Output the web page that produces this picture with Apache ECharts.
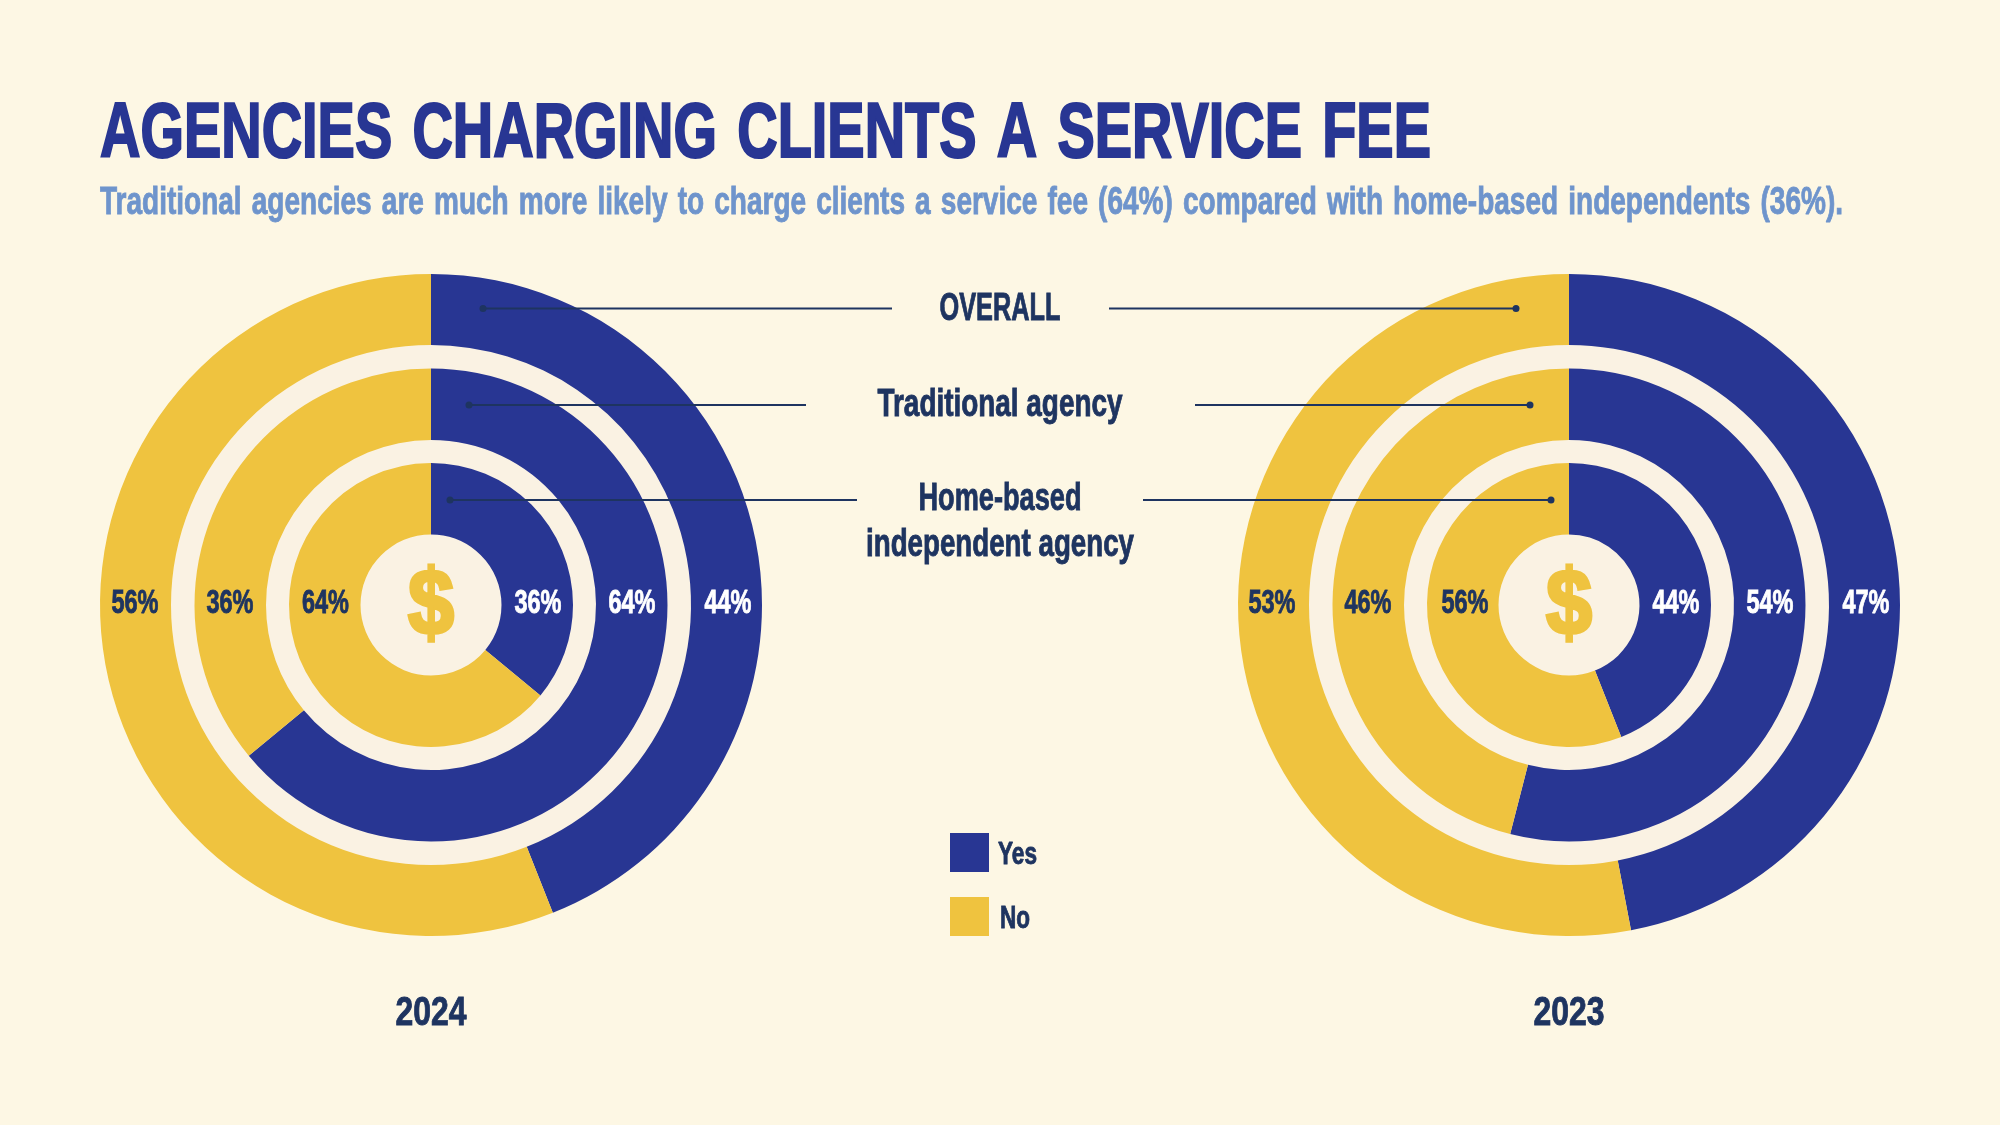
<!DOCTYPE html>
<html>
<head>
<meta charset="utf-8">
<style>html,body{margin:0;padding:0;background:#FDF7E4}#chart{width:2000px;height:1125px}</style>
<script src="https://cdn.jsdelivr.net/npm/echarts@6/dist/echarts.min.js"></script>
</head>
<body>
<div id="chart"></div>
<script>
// Share of agencies charging a service fee, by survey year and agency type
const years = ['2024', '2023'];
const answers = ['Yes', 'No'];
const ringNames = ['OVERALL', 'Traditional agency', 'Home-based independent agency'];
const yes2024 = [44, 64, 36];
const no2024 = [56, 36, 64];
const yes2023 = [47, 54, 44];
const no2023 = [53, 46, 56];
const titleText = 'AGENCIES CHARGING CLIENTS A SERVICE FEE';
const subtitleText = 'Traditional agencies are much more likely to charge clients a service fee (64%) compared with home-based independents (36%).';

const BLUE = '#283693', YELLOW = '#EFC33F', NAVY = '#1E3460', SKY = '#6E94CC';
const PAPER = '#FDF7E4', GAP = '#FAF2E3';
const FAMILY = '"Liberation Sans"';
const CENTER_Y = 605;
const CENTERS = [431, 1569];
const RINGS = [[260, 331], [165, 236.5], [70.5, 142]];

const meter = document.createElement('canvas').getContext('2d');

// Bold text squeezed horizontally to a target width, giving a heavy condensed look
function squeezed(text, size, width, x, y, fill, align, weightPx) {
  const font = 'bold ' + size + 'px ' + FAMILY;
  meter.font = font;
  return {
    type: 'text', x, y, z: 20,
    scaleX: width / meter.measureText(text).width,
    silent: true,
    style: {
      text, font, fill, align: align || 'center', verticalAlign: 'middle',
      stroke: fill, lineWidth: weightPx === undefined ? 0.9 : weightPx
    }
  };
}

// Headlines are set with slightly wider gaps between words
const wideGaps = s => s.replace(/ /g, ' \u200A');

function line(x1, x2, y) {
  return { type: 'line', z: 15, silent: true, shape: { x1, y1: y, x2, y2: y }, style: { stroke: NAVY, lineWidth: 2 } };
}
function dot(x, y) {
  return { type: 'circle', z: 16, silent: true, shape: { cx: x, cy: y, r: 3.5 }, style: { fill: NAVY } };
}

const series = [];
const yesByYear = [yes2024, yes2023];
const noByYear = [no2024, no2023];

CENTERS.forEach((cx, c) => {
  // backing disc that shows through as the gaps between rings
  series.push({
    type: 'pie', silent: true, z: 1, animation: false,
    center: [cx, CENTER_Y], radius: [0, 260],
    label: { show: false }, labelLine: { show: false },
    data: [{ value: 1, name: 'backing', itemStyle: { color: GAP } }],
    legendHoverLink: false, tooltip: { show: false }
  });
  RINGS.forEach((r, i) => {
    series.push({
      type: 'pie', silent: true, z: 2, animation: false,
      center: [cx, CENTER_Y], radius: r, startAngle: 90, clockwise: true,
      avoidLabelOverlap: false,
      label: { show: false }, labelLine: { show: false },
      data: [
        { name: answers[0], value: yesByYear[c][i], itemStyle: { color: BLUE } },
        { name: answers[1], value: noByYear[c][i], itemStyle: { color: YELLOW } }
      ]
    });
  });
});

const graphics = [
  squeezed(wideGaps(titleText), 78, 1331, 100, 135, BLUE, 'left', 2.2),
  squeezed(wideGaps(subtitleText), 39, 1743, 100, 203, SKY, 'left', 0.9)
];

// percentage labels sit on the horizontal through each chart's centre
const labelX = [
  { yes: [728, 632, 538], no: [135, 230, 325.5] },
  { yes: [1866, 1770, 1676], no: [1272, 1368, 1465] }
];
CENTERS.forEach((cx, c) => {
  RINGS.forEach((r, i) => {
    graphics.push(squeezed(yesByYear[c][i] + '%', 33, 47, labelX[c].yes[i], 604, '#FFFFFF'));
    graphics.push(squeezed(noByYear[c][i] + '%', 33, 47, labelX[c].no[i], 604, NAVY));
  });
  graphics.push(squeezed('$', 92, 46, cx, 609, YELLOW, 'center', 3.5));
  graphics.push(squeezed(years[c], 40, 71, cx, 1014, NAVY));
});

// ring captions between the two charts
graphics.push(squeezed(ringNames[0], 38, 121, 1000, 310, NAVY));
graphics.push(squeezed(ringNames[1], 38, 245, 1000, 406, NAVY));
graphics.push(squeezed('Home-based', 38, 163, 1000, 500, NAVY));
graphics.push(squeezed('independent agency', 38, 268, 1000, 546, NAVY));

// leader lines from each caption to its ring
[[483, 892, 308.5], [469, 806, 405], [450, 857, 500]].forEach(s => {
  graphics.push(line(s[0], s[1], s[2]), dot(s[0], s[2]));
});
[[1109, 1516, 308.5], [1195, 1530, 405], [1143, 1551, 500]].forEach(s => {
  graphics.push(line(s[0], s[1], s[2]), dot(s[1], s[2]));
});

// legend captions
graphics.push(squeezed(answers[0], 32, 39, 998, 855, NAVY, 'left'));
graphics.push(squeezed(answers[1], 32, 30, 1000, 919, NAVY, 'left'));

const chart = echarts.init(document.getElementById('chart'), null, { renderer: 'canvas' });
chart.setOption({
  animation: false,
  backgroundColor: PAPER,
  legend: {
    data: answers, orient: 'vertical', left: 950, top: 833, padding: 0,
    itemWidth: 39, itemHeight: 39, itemGap: 25, icon: 'rect',
    selectedMode: false, formatter: () => ' ',
    textStyle: { fontSize: 1 }
  },
  series,
  graphic: { elements: graphics }
});
</script>
</body>
</html>
